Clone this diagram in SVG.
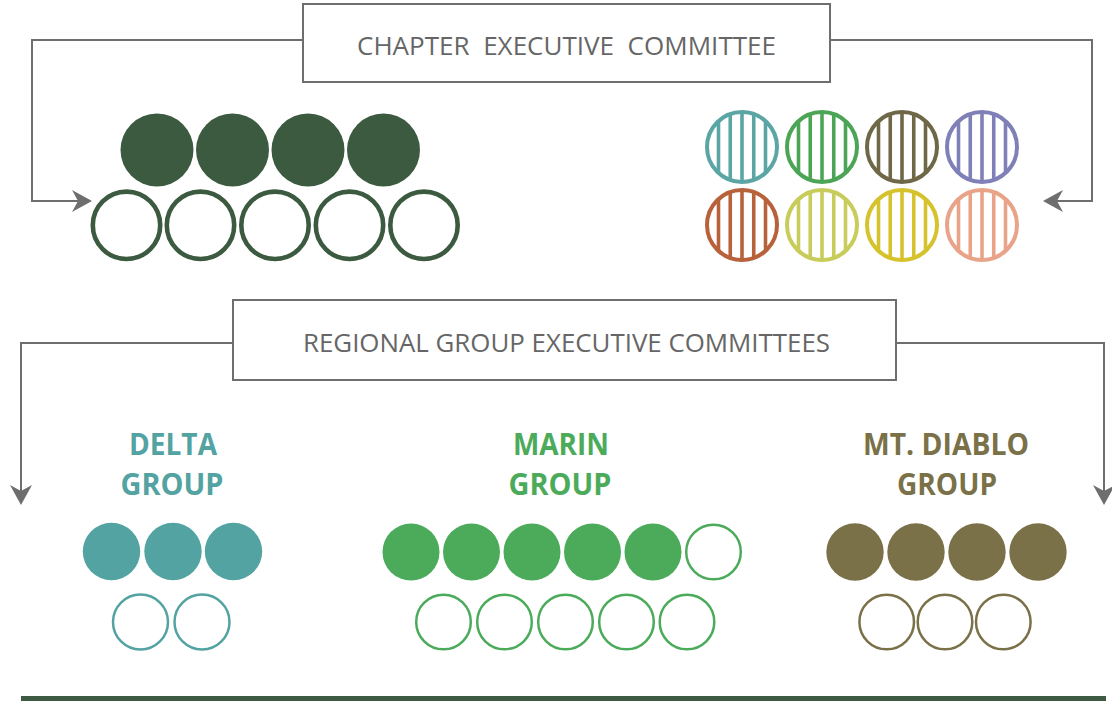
<svg xmlns="http://www.w3.org/2000/svg" xmlns:xlink="http://www.w3.org/1999/xlink" width="1112" height="701" viewBox="0 0 1112 701">
<style>
.box{fill:#fff;stroke:#6e6e6e;stroke-width:2}
.conn{fill:none;stroke:#6e6e6e;stroke-width:2}
.title{font-family:"Open Sans","Liberation Sans",sans-serif;font-weight:400;font-size:26px;fill:#666666;white-space:pre}
.grp{font-family:"Open Sans","Liberation Sans",sans-serif;font-weight:700;font-size:30px;text-anchor:middle}
</style>
<defs>
<marker id="arr" viewBox="0 0 20 22" refX="6" refY="11" markerWidth="20" markerHeight="22" markerUnits="userSpaceOnUse" orient="auto">
<path d="M0,0 L20,11 L0,22 L6,11 Z" fill="#6e6e6e"/>
</marker>
<g id="striped" fill="none" stroke="currentColor">
<circle r="35" stroke-width="4"/>
<g stroke-width="3.6">
<line x1="-23.5" y1="-26" x2="-23.5" y2="26"/>
<line x1="-11.75" y1="-33" x2="-11.75" y2="33"/>
<line x1="0" y1="-35" x2="0" y2="35"/>
<line x1="11.75" y1="-33" x2="11.75" y2="33"/>
<line x1="23.5" y1="-26" x2="23.5" y2="26"/>
</g>
</g>
</defs>
<rect width="1112" height="701" fill="#fff"/>

<g id="connectors">
<path class="conn" d="M303,40 H32 V201 H78" marker-end="url(#arr)"/>
<path class="conn" d="M830,40 H1092 V201 H1057" marker-end="url(#arr)"/>
<path class="conn" d="M233,343 H21 V491" marker-end="url(#arr)"/>
<path class="conn" d="M896,343 H1104 V491" marker-end="url(#arr)"/>
</g>

<g id="chapter-exec">
<rect class="box" x="303" y="4" width="527" height="78"/>
<text class="title" xml:space="preserve" x="357" y="55" textLength="419" lengthAdjust="spacingAndGlyphs">CHAPTER  EXECUTIVE  COMMITTEE</text>
</g>

<g id="chapter-members" fill="#3c5a3f">
<circle cx="157" cy="150" r="36.5"/>
<circle cx="232.5" cy="150" r="36.5"/>
<circle cx="308" cy="150" r="36.5"/>
<circle cx="383.5" cy="150" r="36.5"/>
<g fill="none" stroke="#3c5a3f" stroke-width="4.6">
<circle cx="126.5" cy="225.3" r="33.7"/>
<circle cx="200.5" cy="225.3" r="33.7"/>
<circle cx="275" cy="225.3" r="33.7"/>
<circle cx="349.5" cy="225.3" r="33.7"/>
<circle cx="424" cy="225.3" r="33.7"/>
</g>
</g>

<g id="group-reps">
<use xlink:href="#striped" x="742" y="147" style="color:#5ba6a5"/>
<use xlink:href="#striped" x="822" y="147" style="color:#4ca556"/>
<use xlink:href="#striped" x="902" y="147" style="color:#6f6848"/>
<use xlink:href="#striped" x="982" y="147" style="color:#8080b8"/>
<use xlink:href="#striped" x="742" y="225" style="color:#b8623c"/>
<use xlink:href="#striped" x="822" y="225" style="color:#c8cc5a"/>
<use xlink:href="#striped" x="902" y="225" style="color:#d5c22c"/>
<use xlink:href="#striped" x="982" y="225" style="color:#e8a388"/>
</g>

<g id="regional-exec">
<rect class="box" x="233" y="300" width="663" height="80"/>
<text class="title" x="303" y="352" textLength="527" lengthAdjust="spacingAndGlyphs">REGIONAL GROUP EXECUTIVE COMMITTEES</text>
</g>

<g id="delta-group">
<text class="grp" fill="#52a3a1" x="173" y="455" textLength="88" lengthAdjust="spacingAndGlyphs">DELTA</text>
<text class="grp" fill="#52a3a1" x="172" y="495" textLength="103" lengthAdjust="spacingAndGlyphs">GROUP</text>
<g fill="#52a3a1">
<circle cx="111.5" cy="551.5" r="28.7"/>
<circle cx="173" cy="551.5" r="28.7"/>
<circle cx="233.5" cy="551.5" r="28.7"/>
</g>
<g fill="none" stroke="#52a3a1" stroke-width="2.5">
<circle cx="140.5" cy="622" r="27.5"/>
<circle cx="202" cy="622" r="27.5"/>
</g>
</g>

<g id="marin-group">
<text class="grp" fill="#4cab5b" x="561" y="455" textLength="96" lengthAdjust="spacingAndGlyphs">MARIN</text>
<text class="grp" fill="#4cab5b" x="560" y="495" textLength="103" lengthAdjust="spacingAndGlyphs">GROUP</text>
<g fill="#4cab5b">
<circle cx="411" cy="552" r="28.5"/>
<circle cx="471.5" cy="552" r="28.5"/>
<circle cx="532" cy="552" r="28.5"/>
<circle cx="592.5" cy="552" r="28.5"/>
<circle cx="653" cy="552" r="28.5"/>
</g>
<g fill="none" stroke="#4cab5b" stroke-width="2.5">
<circle cx="713.5" cy="552" r="27.3"/>
<circle cx="443.5" cy="622" r="27.3"/>
<circle cx="504.5" cy="622" r="27.3"/>
<circle cx="565.5" cy="622" r="27.3"/>
<circle cx="626.5" cy="622" r="27.3"/>
<circle cx="687" cy="622" r="27.3"/>
</g>
</g>

<g id="mtdiablo-group">
<text class="grp" fill="#7a7149" x="946" y="455" textLength="166" lengthAdjust="spacingAndGlyphs">MT. DIABLO</text>
<text class="grp" fill="#7a7149" x="947" y="495" textLength="100" lengthAdjust="spacingAndGlyphs">GROUP</text>
<g fill="#7a7149">
<circle cx="855" cy="552" r="28.7"/>
<circle cx="916" cy="552" r="28.7"/>
<circle cx="977" cy="552" r="28.7"/>
<circle cx="1038" cy="552" r="28.7"/>
</g>
<g fill="none" stroke="#7a7149" stroke-width="2.5">
<circle cx="886.7" cy="622" r="27.3"/>
<circle cx="945" cy="622" r="27.3"/>
<circle cx="1003.3" cy="622" r="27.3"/>
</g>
</g>

<rect id="base-bar" x="21" y="696" width="1085" height="6" fill="#3e5a42"/>
</svg>
